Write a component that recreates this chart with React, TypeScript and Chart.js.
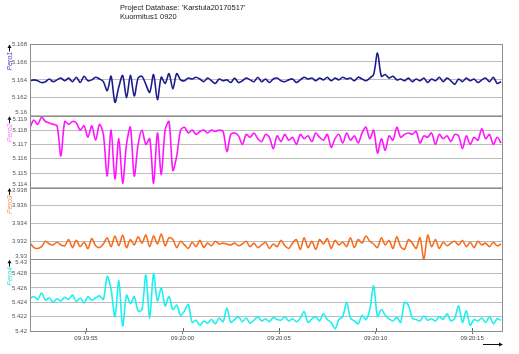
import React, { useEffect, useRef } from "react";
import { Chart, registerables } from "chart.js";

Chart.register(...registerables);

// sample timing: seconds after 09:19:50
const startSeconds = 2.1;
const sampleStep = 0.2;

const headerLines = ["Project Database: 'Karstula20170517'", "Kuormitus1 0920"];

const pero1 = [
  5.1639, 5.164, 5.1639, 5.1637, 5.1638, 5.1641, 5.1638, 5.164, 5.1642, 5.1639, 5.1642, 5.1638, 5.1643, 5.1637, 5.1644, 5.1639, 5.164, 5.1643, 5.1641, 5.1638,
  5.1628, 5.1644, 5.1615, 5.1632, 5.1645, 5.162, 5.1645, 5.1622, 5.1642, 5.1644, 5.1635, 5.1626, 5.1646, 5.1618, 5.1643, 5.1636, 5.1647, 5.163, 5.1647, 5.164,
  5.1639, 5.1642, 5.1641, 5.1643, 5.1641, 5.1638, 5.1642, 5.1639, 5.1636, 5.1641, 5.1639, 5.164, 5.1637, 5.1642, 5.1637, 5.1639, 5.1642, 5.164, 5.1638, 5.1643,
  5.1638, 5.1641, 5.1637, 5.1641, 5.1642, 5.1639, 5.1638, 5.164, 5.1641, 5.1637, 5.164, 5.1643, 5.1641, 5.1642, 5.1639, 5.1642, 5.164, 5.1643, 5.1639, 5.1642,
  5.164, 5.1643, 5.1641, 5.1642, 5.1639, 5.1643, 5.1641, 5.1639, 5.1642, 5.1646, 5.167, 5.1644, 5.1646, 5.1642, 5.1644,
  5.164, 5.1641, 5.1639, 5.1642, 5.1638, 5.1641, 5.1639, 5.1642, 5.1637, 5.1641, 5.1639, 5.1643, 5.1638, 5.1642, 5.1639, 5.1635, 5.1641, 5.1638, 5.1642, 5.1639,
  5.1641, 5.1637, 5.164, 5.1642, 5.1638, 5.1643, 5.1636, 5.1638,
];

const pero2 = [
  5.1182, 5.1187, 5.1184, 5.1189, 5.1186, 5.1185, 5.1184, 5.1183, 5.1162, 5.1186, 5.1184, 5.1186, 5.1185, 5.118, 5.1183, 5.1175, 5.1183, 5.1173, 5.1184, 5.1177,
  5.1148, 5.118, 5.1146, 5.1174, 5.1143, 5.117, 5.1182, 5.1148, 5.117, 5.118, 5.117, 5.1174, 5.1143, 5.1178, 5.1149, 5.118, 5.1186, 5.1152, 5.1162, 5.118,
  5.1182, 5.1178, 5.118, 5.1177, 5.1179, 5.118, 5.1178, 5.118, 5.1179, 5.118, 5.1179,
  5.1165,
  5.1177, 5.1178, 5.1176, 5.117, 5.1177, 5.1175, 5.1178, 5.1174, 5.1172, 5.1177, 5.1175,
  5.1167,
  5.1176, 5.1172, 5.1177, 5.1173, 5.1175, 5.117, 5.1177, 5.1174, 5.1176, 5.1172, 5.1178, 5.1175, 5.1173, 5.1177,
  5.1168,
  5.1174, 5.1177, 5.1171, 5.1178, 5.1173, 5.1176, 5.1171, 5.1178, 5.1182, 5.1174, 5.118,
  5.1164,
  5.1174, 5.1166, 5.1176, 5.1173, 5.1182, 5.1175, 5.1177, 5.1178, 5.1177, 5.1179, 5.1171, 5.1176, 5.1175, 5.1178, 5.117, 5.1177, 5.1174, 5.1176, 5.1172, 5.1177, 5.1176,
  5.1167,
  5.1176, 5.117, 5.1175, 5.1173, 5.1181, 5.1174, 5.1177, 5.117, 5.1175, 5.1171,
];

const pero3 = [
  3.9318, 3.9313, 3.9312, 3.9314, 3.932, 3.9317, 3.9316, 3.9319, 3.9316, 3.9315, 3.9322, 3.9313, 3.9321, 3.9314, 3.9319, 3.9312, 3.9323, 3.9315, 3.9313, 3.9317,
  3.9324, 3.9314, 3.9326, 3.9315, 3.9327, 3.9313, 3.9322, 3.9316, 3.9325, 3.9318, 3.9327, 3.9314, 3.9326, 3.9317, 3.9328, 3.9315, 3.9324, 3.9322, 3.9313, 3.932,
  3.9316, 3.9312, 3.9319, 3.9314, 3.9321, 3.9313, 3.9318, 3.9315, 3.932, 3.9317, 3.9318, 3.9317, 3.9316, 3.9318, 3.9315, 3.9317, 3.932, 3.9314, 3.9318, 3.9313,
  3.9316, 3.9319, 3.9312, 3.9317, 3.9314, 3.9321, 3.9315, 3.9312, 3.9318, 3.9322, 3.9311, 3.9324, 3.9313, 3.932, 3.9311, 3.9322, 3.9317, 3.9323, 3.9312, 3.9321,
  3.9316, 3.9319, 3.9314, 3.9324, 3.9313, 3.9322, 3.9318, 3.9326, 3.932, 3.9317, 3.9313, 3.9324, 3.9316, 3.9321, 3.9312, 3.9325, 3.9314, 3.9311, 3.9322, 3.9318,
  3.9312, 3.9324, 3.93, 3.9327, 3.9314, 3.9322, 3.9312, 3.9319, 3.9315, 3.9318, 3.932, 3.9316, 3.9321, 3.9314, 3.9319, 3.9313, 3.932, 3.9316, 3.9318, 3.9314,
  3.9319, 3.9315, 3.9317,
];

const pero4 = [
  5.4245, 5.4248, 5.4244, 5.4253, 5.4243, 5.4246, 5.424, 5.4245, 5.4242, 5.4247, 5.4244, 5.425, 5.4241, 5.4246, 5.4239, 5.4248, 5.4243, 5.4246, 5.4249, 5.4244,
  5.4276, 5.4258, 5.422, 5.427, 5.4207, 5.425, 5.4238, 5.4248, 5.4228, 5.423, 5.4278, 5.4218, 5.428, 5.4242, 5.426, 5.4235, 5.4248, 5.423, 5.4236, 5.4222, 5.4228, 5.4237,
  5.4212, 5.4215, 5.4208, 5.4214, 5.4211, 5.4216, 5.421, 5.4218, 5.4213, 5.4232, 5.4212, 5.4216, 5.422, 5.4213, 5.4218, 5.4211, 5.4215, 5.422, 5.4214, 5.4217,
  5.4213, 5.4219, 5.4216, 5.4215, 5.422, 5.4214, 5.4217, 5.4213, 5.4218, 5.4227, 5.4212, 5.4217, 5.422, 5.4214, 5.4224, 5.4216, 5.4212, 5.4203, 5.4216, 5.422,
  5.424, 5.4218, 5.4214, 5.421, 5.4222, 5.4216, 5.423, 5.4263, 5.422, 5.423, 5.4222, 5.4217, 5.4214, 5.4219, 5.4212, 5.424, 5.4236, 5.4218, 5.4216, 5.4214,
  5.4221, 5.4215, 5.4217, 5.4214, 5.422, 5.4216, 5.4224, 5.4214, 5.4218, 5.4235, 5.4212, 5.4228, 5.4208, 5.4216, 5.4214, 5.4218, 5.4212, 5.422, 5.421, 5.4217, 5.4215,
];

const pero1Ticks = [5.16, 5.162, 5.164, 5.166, 5.168];
const pero2Ticks = [5.114, 5.115, 5.116, 5.117, 5.118, 5.119];
const pero3Ticks = [3.93, 3.932, 3.934, 3.936, 3.938];
const pero4Ticks = [5.42, 5.422, 5.424, 5.426, 5.428, 5.43];

const timeMin = 2.1;
const timeMax = 26.6;
const timeTickSeconds = [5, 10, 15, 20, 25];
const timeTickLabels = ["09:19:55", "09:20:00", "09:20:05", "09:20:10", "09:20:15"];

const FONT = "'Liberation Sans', Arial, sans-serif";

const panels = [
  { id: "y1", name: "Pero1", values: pero1, ticks: pero1Ticks, line: "#1c1c8c", title: "#3a3ac8", shiftTop: false, shiftBottom: true },
  { id: "y2", name: "Pero2", values: pero2, ticks: pero2Ticks, line: "#ff14ff", title: "#ff70ff", shiftTop: true, shiftBottom: true },
  { id: "y3", name: "Pero3", values: pero3, ticks: pero3Ticks, line: "#f56e1e", title: "#ff8a50", shiftTop: true, shiftBottom: true },
  { id: "y4", name: "Pero4", values: pero4, ticks: pero4Ticks, line: "#1cf0f0", title: "#30e0e0", shiftTop: true, shiftBottom: false },
];

const fmt = (v: number) => String(parseFloat(v.toFixed(4)));

const framePlugin = {
  id: "frame",
  afterDraw(chart: any) {
    const { ctx, chartArea: a } = chart;
    ctx.save();
    ctx.strokeStyle = "#8c8c8c";
    ctx.lineWidth = 1;
    ctx.strokeRect(Math.round(a.left) + 0.5, Math.round(a.top) + 0.5, Math.round(a.right - a.left) - 1, Math.round(a.bottom - a.top));
    ["y1", "y2", "y3"].forEach((id) => {
      const s = chart.scales[id];
      const y = Math.round(s.bottom) + 0.5;
      ctx.beginPath();
      ctx.moveTo(a.left, y);
      ctx.lineTo(a.right, y);
      ctx.stroke();
    });
    // inward ticks on the time axis
    const xs = chart.scales.x;
    ctx.strokeStyle = "#666";
    xs.ticks.forEach((t: any) => {
      const px = Math.round(xs.getPixelForValue(t.value)) + 0.5;
      ctx.beginPath();
      ctx.moveTo(px, a.bottom);
      ctx.lineTo(px, a.bottom - 3);
      ctx.stroke();
    });
    // axis arrows
    ctx.fillStyle = "#111";
    ctx.strokeStyle = "#111";
    ["y1", "y2", "y3", "y4"].forEach((id) => {
      const s = chart.scales[id];
      const x = 9.5;
      const top = s.top + 0.5;
      ctx.beginPath();
      ctx.moveTo(x, top + 7);
      ctx.lineTo(x, top + 2);
      ctx.stroke();
      ctx.beginPath();
      ctx.moveTo(x, top);
      ctx.lineTo(x - 2, top + 3.5);
      ctx.lineTo(x + 2, top + 3.5);
      ctx.closePath();
      ctx.fill();
    });
    const ay = a.bottom + 13.5;
    ctx.beginPath();
    ctx.moveTo(a.right - 20, ay);
    ctx.lineTo(a.right - 3, ay);
    ctx.stroke();
    ctx.beginPath();
    ctx.moveTo(a.right, ay);
    ctx.lineTo(a.right - 4, ay - 2);
    ctx.lineTo(a.right - 4, ay + 2);
    ctx.closePath();
    ctx.fill();
    ctx.restore();
  },
};

export default function App() {
  const canvasRef = useRef<HTMLCanvasElement | null>(null);

  useEffect(() => {
    if (!canvasRef.current) return;
    const scales: any = {
      x: {
        type: "linear",
        position: "bottom",
        min: timeMin,
        max: timeMax,
        afterBuildTicks: (s: any) => {
          s.ticks = timeTickSeconds.map((v) => ({ value: v }));
        },
        afterFit: (s: any) => {
          s.height = 23;
        },
        grid: { drawOnChartArea: false, drawTicks: true, tickLength: 3, color: "#777" },
        border: { display: false },
        ticks: {
          autoSkip: false,
          maxRotation: 0,
          padding: 1,
          color: "#444",
          font: { size: 6, family: FONT },
          callback: (v: any) => {
            const i = timeTickSeconds.indexOf(Number(v));
            return i >= 0 ? timeTickLabels[i] : "";
          },
        },
      },
    };
    // define bottom panel first so the last-defined (Pero1) sits on top
    [...panels].reverse().forEach((p) => {
      const tickVals = p.ticks;
      scales[p.id] = {
        type: "linear",
        position: "left",
        stack: "panels",
        stackWeight: 1,
        min: tickVals[0],
        max: tickVals[tickVals.length - 1],
        afterBuildTicks: (s: any) => {
          s.ticks = tickVals.map((v) => ({ value: v }));
        },
        afterFit: (s: any) => {
          s.width = 30;
        },
        grid: { color: "#bdbdbd", drawTicks: false, tickLength: 0 },
        border: { display: true, color: "#8c8c8c" },
        ticks: {
          autoSkip: false,
          padding: 3,
          color: "#555",
          font: { size: 6, family: FONT, lineHeight: 1.1 },
          callback: (v: any, i: number, arr: any[]) => {
            const label = fmt(Number(v));
            if (i === 0 && p.shiftBottom) return [label, ""];
            if (i === arr.length - 1 && p.shiftTop) return ["", label];
            return label;
          },
        },
        title: {
          display: true,
          text: p.name + "    ",
          align: "end",
          color: p.title,
          font: { size: 7, style: "italic", family: FONT },
          padding: { top: 6, bottom: 0 },
        },
      };
    });

    const chart = new Chart(canvasRef.current, {
      type: "line",
      data: {
        datasets: panels.map((p) => ({
          label: p.name,
          yAxisID: p.id,
          data: p.values.map((y, i) => ({ x: startSeconds + i * sampleStep, y })),
          borderColor: p.line,
          borderWidth: 1.6,
          pointRadius: 0,
          tension: 0.3,
          fill: false,
        })),
      },
      options: {
        responsive: false,
        animation: false,
        events: [],
        layout: { padding: { top: 44, right: 16, bottom: 0, left: 0 } },
        plugins: { legend: { display: false }, tooltip: { enabled: false }, title: { display: false } },
        scales,
      },
      plugins: [framePlugin],
    });
    return () => chart.destroy();
  }, []);

  return (
    <div style={{ position: "fixed", left: 0, top: 0, width: 519, height: 354, background: "#fff" }}>
      <canvas ref={canvasRef} width={519} height={354} style={{ display: "block" }} />
      <div
        style={{
          position: "absolute",
          left: 120,
          top: 4,
          fontFamily: FONT,
          fontSize: 7.5,
          lineHeight: "8.5px",
          color: "#222",
          whiteSpace: "pre",
        }}
      >
        {headerLines.map((l) => (
          <div key={l}>{l}</div>
        ))}
      </div>
    </div>
  );
}
